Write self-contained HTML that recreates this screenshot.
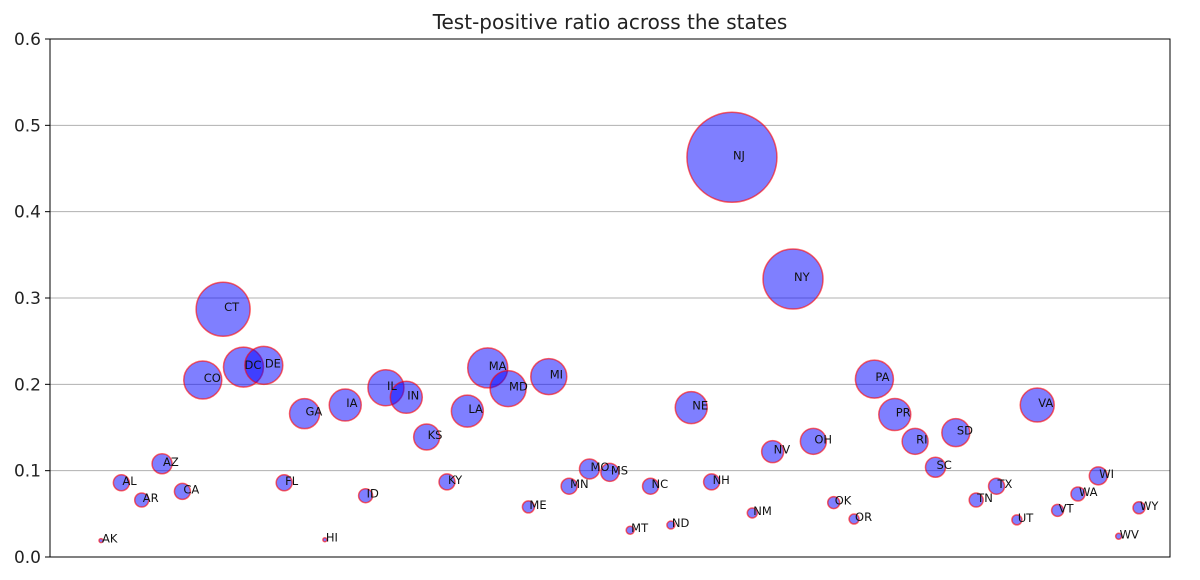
<!DOCTYPE html>
<html><head><meta charset="utf-8"><style>
body{margin:0;background:#fff;}
svg text{font-family:"DejaVu Sans","Liberation Sans",sans-serif;}
</style></head><body>
<svg id="chart" width="1200" height="575">
<rect x="0" y="0" width="1200" height="575" fill="#fff"/>
<text x="610" y="29" font-size="20" text-anchor="middle" fill="#222">Test-positive ratio across the states</text>
<g id="grid"></g>
<g id="yticks"></g>
<g id="marks"></g>
<g id="labels"></g>
<rect x="50" y="39" width="1120" height="518" fill="none" stroke="#000" stroke-width="1"/>
</svg>
<script>
const states=["AK","AL","AR","AZ","CA","CO","CT","DC","DE","FL","GA","HI","IA","ID","IL","IN","KS","KY","LA","MA","MD","ME","MI","MN","MO","MS","MT","NC","ND","NE","NH","NJ","NM","NV","NY","OH","OK","OR","PA","PR","RI","SC","SD","TN","TX","UT","VA","VT","WA","WI","WV","WY"];
const ratios=[0.019,0.086,0.066,0.108,0.076,0.205,0.287,0.220,0.222,0.086,0.166,0.020,0.176,0.071,0.196,0.185,0.139,0.087,0.169,0.219,0.195,0.058,0.209,0.082,0.102,0.098,0.031,0.082,0.037,0.173,0.087,0.463,0.051,0.122,0.322,0.134,0.063,0.044,0.206,0.165,0.134,0.104,0.144,0.066,0.082,0.043,0.176,0.054,0.073,0.094,0.024,0.057];
const sizes=[2,8,7,10,8,19,27,20,19,8,15,2,16,7,18,16,13,8,16,20,18,6,18,8,10,9,4,8,4,16,8,45,5,11,30,13,6,5,19,16,13,10,14,7,8,5,17,6,7,9,3,6];
const yTicks=["0.0","0.1","0.2","0.3","0.4","0.5","0.6"];
const NS="http://www.w3.org/2000/svg";
const X0=101,X1=1139,Y0=557,Y1=39,YMAX=0.6;
const xs=i=>X0+(X1-X0)*i/(states.length-1);
const ys=v=>Y0-(Y0-Y1)*v/YMAX;
const g=document.getElementById('grid'),yt=document.getElementById('yticks'),m=document.getElementById('marks'),lb=document.getElementById('labels');
yTicks.forEach(t=>{const v=parseFloat(t),y=ys(v);
 if(v>0&&v<YMAX){const l=document.createElementNS(NS,'line');l.setAttribute('x1',50);l.setAttribute('x2',1170);l.setAttribute('y1',y);l.setAttribute('y2',y);l.setAttribute('stroke','#b0b0b0');l.setAttribute('stroke-width','1');
 
 g.appendChild(l);}
 const tk=document.createElementNS(NS,'line');tk.setAttribute('x1',45);tk.setAttribute('x2',50);tk.setAttribute('y1',y);tk.setAttribute('y2',y);tk.setAttribute('stroke','#000');
 
 yt.appendChild(tk);
 const tx=document.createElementNS(NS,'text');tx.setAttribute('x',41);tx.setAttribute('y',y+6);tx.setAttribute('text-anchor','end');tx.setAttribute('font-size','17');tx.setAttribute('fill','#222');tx.textContent=t;
 
 yt.appendChild(tx);});
states.forEach((s,i)=>{const cx=xs(i),cy=ys(ratios[i]);
 const c=document.createElementNS(NS,'circle');c.setAttribute('cx',cx);c.setAttribute('cy',cy);c.setAttribute('r',sizes[i]);c.setAttribute('fill','rgba(0,0,255,0.5)');c.setAttribute('stroke','rgba(255,0,0,0.6)');c.setAttribute('stroke-width','1.5');
 
 m.appendChild(c);
 const t=document.createElementNS(NS,'text');t.setAttribute('x',cx+1);t.setAttribute('y',cy+2);t.setAttribute('font-size','11.5');t.setAttribute('fill','#111');t.textContent=s;
 
 lb.appendChild(t);});
</script>
</body></html>
